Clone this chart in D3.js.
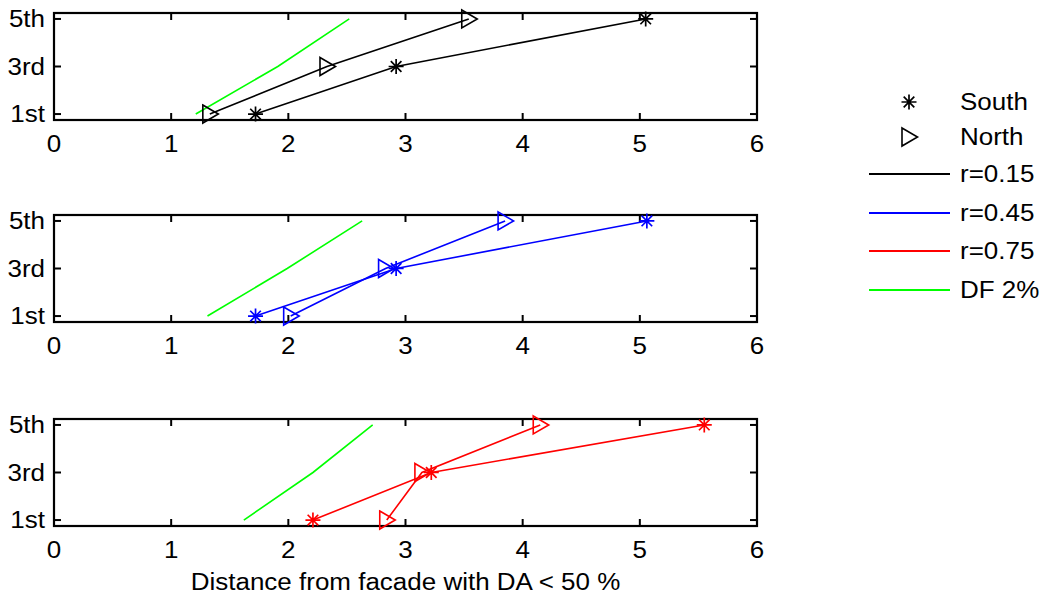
<!DOCTYPE html>
<html><head><meta charset="utf-8">
<script src="https://cdn.jsdelivr.net/npm/d3@7"></script>
<style>body{margin:0;background:#fff}svg{display:block}text{font-family:"Liberation Sans",Arial,sans-serif;fill:#000}</style>
</head><body>
<script>
const floors = [1, 3, 5];
const floorLabels = ["1st", "3rd", "5th"];
const xTicks = [0, 1, 2, 3, 4, 5, 6];
const panelNames = ["r=0.15", "r=0.45", "r=0.75"];
const panelColors = ["#000000", "#0000ff", "#ff0000"];
const southR015 = [1.72, 2.92, 5.05];
const northR015 = [1.33, 2.33, 3.54];
const df2R015 = [1.21, 1.91, 2.52];
const southR045 = [1.72, 2.92, 5.06];
const northR045 = [2.02, 2.83, 3.85];
const df2R045 = [1.31, 1.99, 2.63];
const southR075 = [2.21, 3.22, 5.55];
const northR075 = [2.84, 3.14, 4.15];
const df2R075 = [1.62, 2.21, 2.72];
const legendLabels = ["South", "North", "r=0.15", "r=0.45", "r=0.75", "DF 2%"];
const dfColor = "#00ff00";

const W = 1043, H = 598;
const svg = d3.select("body").append("svg").attr("width", W).attr("height", H);
const panels = [
  {south: southR015, north: northR015, df: df2R015},
  {south: southR045, north: northR045, df: df2R045},
  {south: southR075, north: northR075, df: df2R075}
];
const tops = [13, 215, 419];
const ph = 107;
const x = d3.scaleLinear().domain([0, 6]).range([54, 757]);
const FS = 23, SX = 1.13;

function label(g, tx, ty, txt, anchor, dy) {
  g.append("g").attr("transform", `translate(${tx},${ty}) scale(${SX},1)`)
    .append("text").attr("text-anchor", anchor || "start").attr("dy", dy || 0)
    .attr("font-size", FS).text(txt);
}
function asterisk(g, cx, cy, color) {
  const r = 7.5, d = 5.3;
  g.append("path")
    .attr("d", `M${cx},${cy-r}L${cx},${cy+r}M${cx-r},${cy}L${cx+r},${cy}M${cx-d},${cy-d}L${cx+d},${cy+d}M${cx-d},${cy+d}L${cx+d},${cy-d}`)
    .attr("stroke", color).attr("stroke-width", 1.7).attr("fill", "none");
}
function triangle(g, cx, cy, color) {
  g.append("path")
    .attr("d", `M${cx-7},${cy-9}L${cx+8.5},${cy}L${cx-7},${cy+9}Z`)
    .attr("stroke", color).attr("stroke-width", 1.6).attr("fill", "none");
}

panels.forEach((p, i) => {
  const y = d3.scaleLinear().domain([0.75, 5.25]).range([tops[i] + ph, tops[i]]);
  const g = svg.append("g");
  const color = panelColors[i];
  const tl = 7;
  xTicks.forEach(t => {
    g.append("line").attr("x1", x(t)).attr("x2", x(t)).attr("y1", y.range()[0]).attr("y2", y.range()[0] - tl).attr("stroke", "#000").attr("stroke-width", 2);
    g.append("line").attr("x1", x(t)).attr("x2", x(t)).attr("y1", y.range()[1]).attr("y2", y.range()[1] + tl).attr("stroke", "#000").attr("stroke-width", 2);
    label(g, x(t), y.range()[0] + 32, t, "middle");
  });
  floors.forEach((f, k) => {
    g.append("line").attr("x1", x(0)).attr("x2", x(0) + tl).attr("y1", y(f)).attr("y2", y(f)).attr("stroke", "#000").attr("stroke-width", 2);
    g.append("line").attr("x1", x(6)).attr("x2", x(6) - tl).attr("y1", y(f)).attr("y2", y(f)).attr("stroke", "#000").attr("stroke-width", 2);
    label(g, x(0) - 9, y(f), floorLabels[k], "end", "0.36em");
  });
  g.append("rect").attr("x", x(0)).attr("y", y.range()[1]).attr("width", x(6) - x(0)).attr("height", ph)
    .attr("fill", "none").attr("stroke", "#000").attr("stroke-width", 2.2);

  const line = d3.line().x(d => x(d[0])).y(d => y(d[1]));
  g.append("path").attr("d", line(p.df.map((v, k) => [v, floors[k]]))).attr("stroke", dfColor).attr("stroke-width", 1.6).attr("fill", "none");
  g.append("path").attr("d", line(p.south.map((v, k) => [v, floors[k]]))).attr("stroke", color).attr("stroke-width", 1.6).attr("fill", "none");
  g.append("path").attr("d", line(p.north.map((v, k) => [v, floors[k]]))).attr("stroke", color).attr("stroke-width", 1.6).attr("fill", "none");
  p.south.forEach((v, k) => asterisk(g, x(v), y(floors[k]), color));
  p.north.forEach((v, k) => triangle(g, x(v), y(floors[k]), color));
});

label(svg, (x(0) + x(6)) / 2, 590, "Distance from facade with DA < 50 %", "middle");

const lg = svg.append("g");
const rowY = [102, 137, 174, 213, 251, 290];
legendLabels.forEach((lab, k) => {
  const yy = rowY[k];
  if (k === 0) asterisk(lg, 909, yy, "#000");
  else if (k === 1) triangle(lg, 909, yy, "#000");
  else {
    const c = k < 5 ? panelColors[k - 2] : dfColor;
    lg.append("line").attr("x1", 869).attr("x2", 950).attr("y1", yy).attr("y2", yy).attr("stroke", c).attr("stroke-width", 1.8);
  }
  label(lg, 960, yy, lab, "start", "0.36em");
});
</script>
</body></html>
